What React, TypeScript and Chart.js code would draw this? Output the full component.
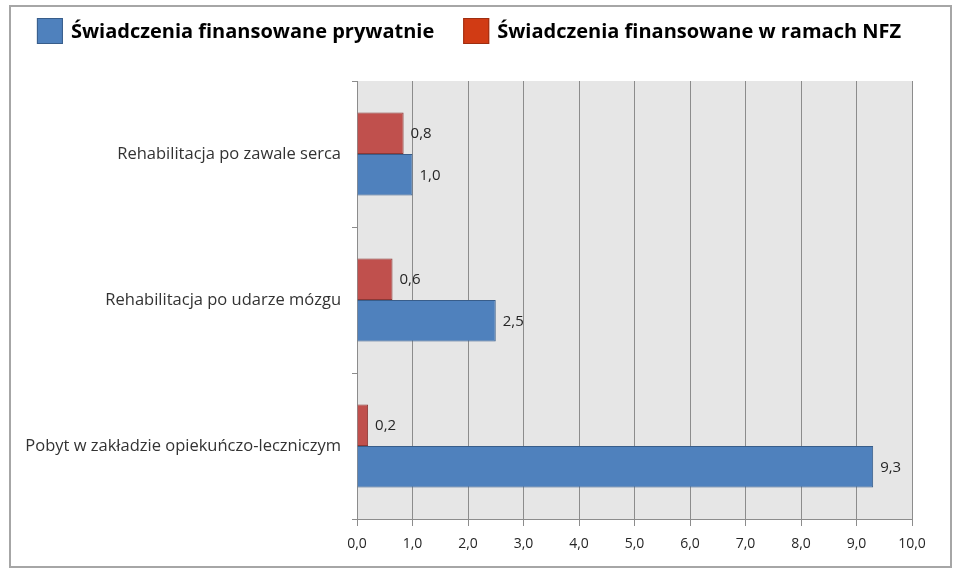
import React, { useEffect, useRef } from "react";
import { Chart, registerables } from "chart.js";

Chart.register(...registerables);

const categories = [
  "Rehabilitacja po zawale serca",
  "Rehabilitacja po udarze mózgu",
  "Pobyt w zakładzie opiekuńczo-leczniczym",
];
const seriesPrivate = "Świadczenia finansowane prywatnie";
const seriesNfz = "Świadczenia finansowane w ramach NFZ";
const privateValues = [1.0, 2.5, 9.3];
const nfzValues = [0.84, 0.64, 0.2];
const xMin = 0;
const xMax = 10;
const xStep = 1;

const FONT = "'Open Sans', 'Noto Sans', sans-serif";
const fmt = (v: number) => v.toFixed(1).replace(".", ",");

const bgPlugin = {
  id: "bgPlugin",
  beforeDraw(chart: any) {
    const { ctx, chartArea } = chart;
    ctx.save();
    ctx.fillStyle = "#ffffff";
    ctx.fillRect(0, 0, chart.width, chart.height);
    ctx.fillStyle = "#e6e6e6";
    ctx.fillRect(chartArea.left, chartArea.top, chartArea.right - chartArea.left, chartArea.bottom - chartArea.top);
    ctx.restore();
  },
};

const valueLabels = {
  id: "valueLabels",
  afterDatasetsDraw(chart: any) {
    const { ctx } = chart;
    ctx.save();
    ctx.font = `15px ${FONT}`;
    ctx.fillStyle = "#262626";
    ctx.textAlign = "left";
    ctx.textBaseline = "middle";
    chart.data.datasets.forEach((ds: any, di: number) => {
      const meta = chart.getDatasetMeta(di);
      meta.data.forEach((el: any, i: number) => {
        ctx.fillText(fmt(ds.data[i]), el.x + 7, el.y + 1);
      });
    });
    ctx.restore();
  },
};

const customLegend = {
  id: "customLegend",
  afterDraw(chart: any) {
    const { ctx } = chart;
    const items = [
      { text: seriesPrivate, fill: "#4F81BD", stroke: "#385D8A" },
      { text: seriesNfz, fill: "#D13B14", stroke: "#9E2E10" },
    ];
    ctx.save();
    ctx.font = `bold 20px ${FONT}`;
    const box = 26;
    const gapText = 8;
    const gapItems = 29;
    const widths = items.map((it) => box + gapText + ctx.measureText(it.text).width);
    const total = widths.reduce((a, b) => a + b, 0) + gapItems * (items.length - 1);
    let x = 469 - total / 2;
    const yc = 31;
    items.forEach((it, i) => {
      ctx.fillStyle = it.fill;
      ctx.fillRect(x, yc - box / 2, box, box);
      ctx.strokeStyle = it.stroke;
      ctx.lineWidth = 1;
      ctx.strokeRect(x + 0.5, yc - box / 2 + 0.5, box - 1, box - 1);
      ctx.fillStyle = "#000000";
      ctx.textAlign = "left";
      ctx.textBaseline = "middle";
      ctx.fillText(it.text, x + box + gapText, yc + 1);
      x += widths[i] + gapItems;
    });
    ctx.restore();
  },
};

export default function App() {
  const canvasRef = useRef<HTMLCanvasElement | null>(null);

  useEffect(() => {
    const canvas = canvasRef.current;
    if (!canvas) return;
    const chart = new Chart(canvas, {
      type: "bar",
      data: {
        labels: categories,
        datasets: [
          {
            label: seriesNfz,
            data: nfzValues,
            backgroundColor: "#C0504D",
            borderColor: "#8C3836",
            borderWidth: 1,
            categoryPercentage: 0.57,
            barPercentage: 1.0,
          },
          {
            label: seriesPrivate,
            data: privateValues,
            backgroundColor: "#4F81BD",
            borderColor: "#385D8A",
            borderWidth: 1,
            categoryPercentage: 0.57,
            barPercentage: 1.0,
          },
        ],
      },
      options: {
        indexAxis: "y",
        animation: false,
        responsive: true,
        maintainAspectRatio: false,
        layout: { padding: { left: 12, right: 48, top: 81, bottom: 10 } },
        plugins: {
          legend: { display: false },
          tooltip: { enabled: false },
        },
        scales: {
          x: {
            type: "linear",
            min: xMin,
            max: xMax,
            ticks: {
              stepSize: xStep,
              callback: (v: any) => fmt(Number(v)),
              font: { family: FONT, size: 14 },
              color: "#262626",
              padding: 10,
            },
            grid: {
              color: "#8c8c8c",
              lineWidth: 1,
              drawTicks: true,
              tickLength: 7,
            },
            border: { display: true, color: "#8c8c8c" },
            afterFit: (scale: any) => {
              scale.height = 577 - 519 - 10;
            },
          },
          y: {
            type: "category",
            ticks: {
              font: { family: FONT, size: 16.5 },
              color: "#333333",
              padding: 11,
            },
            grid: {
              drawOnChartArea: false,
              drawTicks: true,
              tickLength: 5,
              color: "#8c8c8c",
              offset: true,
            },
            border: { display: true, color: "#8c8c8c" },
            afterFit: (scale: any) => {
              scale.width = 357 - 12;
            },
          },
        },
      },
      plugins: [bgPlugin, valueLabels, customLegend],
    } as any);
    return () => chart.destroy();
  }, []);

  return (
    <div style={{ position: "fixed", left: 0, top: 0, width: 960, height: 577, background: "#ffffff" }}>
      <canvas ref={canvasRef} style={{ position: "absolute", left: 0, top: 0, width: 960, height: 577 }} />
      <div
        style={{
          position: "absolute",
          left: 9,
          top: 5,
          width: 943,
          height: 563,
          border: "2px solid #a6a6a6",
          boxSizing: "border-box",
          pointerEvents: "none",
        }}
      />
    </div>
  );
}
